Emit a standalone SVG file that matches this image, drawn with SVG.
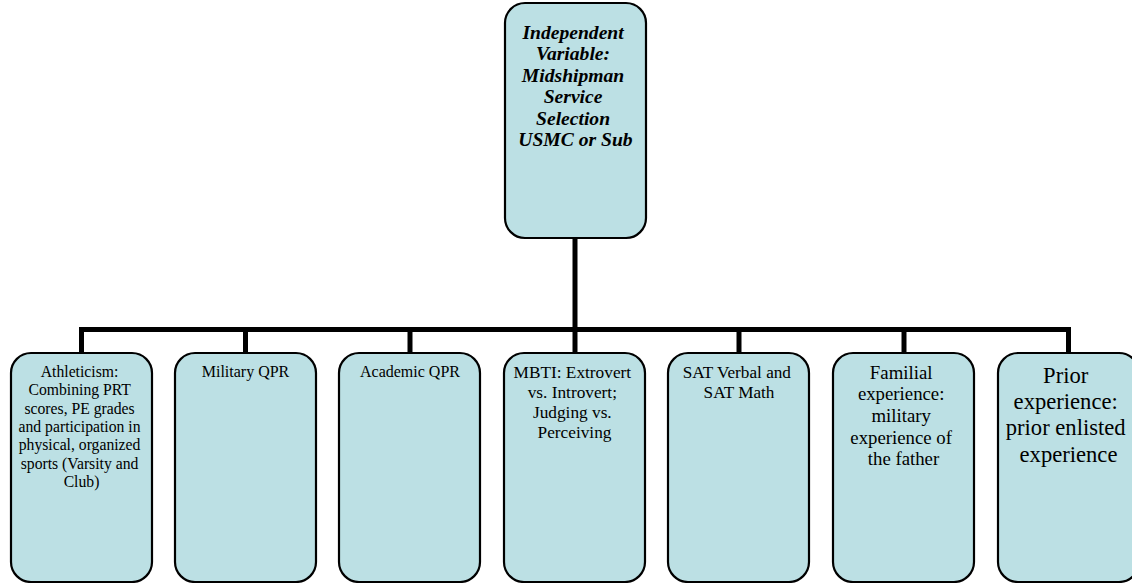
<svg xmlns="http://www.w3.org/2000/svg" width="1132" height="583" viewBox="0 0 1132 583">
<style>
.box{fill:#BCE0E4;stroke:#000;stroke-width:2.2}
.t{font-family:"Liberation Serif","Times New Roman",serif;fill:#000;text-anchor:middle}
.conn{stroke:#000;stroke-width:5;fill:none}
</style>
<rect width="1132" height="583" fill="#fff"/>
<g id="connectors">
<line class="conn" x1="575" y1="238" x2="575" y2="331"/>
<polyline class="conn" points="81.5,353 81.5,329.5 1068.5,329.5 1068.5,353"/>
<line class="conn" x1="245.5" y1="329.5" x2="245.5" y2="353"/>
<line class="conn" x1="410" y1="329.5" x2="410" y2="353"/>
<line class="conn" x1="575" y1="329.5" x2="575" y2="353"/>
<line class="conn" x1="739" y1="329.5" x2="739" y2="353"/>
<line class="conn" x1="904" y1="329.5" x2="904" y2="353"/>
</g>
<g id="root">
<rect class="box" x="505" y="3" width="141" height="235" rx="20"/>
<text class="t" font-size="19.6" font-weight="bold" font-style="italic">
<tspan x="575.5" y="38.5">Independent</tspan>
<tspan x="575.5" y="60">Variable:</tspan>
<tspan x="575.5" y="81.5">Midshipman</tspan>
<tspan x="575.5" y="103">Service</tspan>
<tspan x="575.5" y="124.5">Selection</tspan>
<tspan x="575.5" y="146">USMC or Sub</tspan>
</text>
</g>
<g id="athleticism">
<rect class="box" x="11" y="353" width="141" height="229" rx="20"/>
<text class="t" font-size="15.7">
<tspan x="81.5" y="377">Athleticism:</tspan>
<tspan x="81.5" y="395.3">Combining PRT</tspan>
<tspan x="81.5" y="413.6">scores, PE grades</tspan>
<tspan x="81.5" y="431.9">and participation in</tspan>
<tspan x="81.5" y="450.2">physical, organized</tspan>
<tspan x="81.5" y="468.5">sports (Varsity and</tspan>
<tspan x="81.5" y="486.8">Club)</tspan>
</text>
</g>
<g id="military-qpr">
<rect class="box" x="175" y="353" width="141" height="229" rx="20"/>
<text class="t" font-size="16"><tspan x="245.5" y="377">Military QPR</tspan></text>
</g>
<g id="academic-qpr">
<rect class="box" x="339" y="353" width="141" height="229" rx="20"/>
<text class="t" font-size="16"><tspan x="410" y="377">Academic QPR</tspan></text>
</g>
<g id="mbti">
<rect class="box" x="504" y="353" width="141" height="229" rx="20"/>
<text class="t" font-size="17.3">
<tspan x="574.5" y="377.5">MBTI: Extrovert</tspan>
<tspan x="574.5" y="397.5">vs. Introvert;</tspan>
<tspan x="574.5" y="418">Judging vs.</tspan>
<tspan x="574.5" y="437.5">Perceiving</tspan>
</text>
</g>
<g id="sat">
<rect class="box" x="668" y="353" width="141" height="229" rx="20"/>
<text class="t" font-size="17.2">
<tspan x="739" y="377.5">SAT Verbal and</tspan>
<tspan x="739" y="398.2">SAT Math</tspan>
</text>
</g>
<g id="familial">
<rect class="box" x="833" y="353" width="141" height="229" rx="20"/>
<text class="t" font-size="18.8">
<tspan x="903.5" y="378.5">Familial</tspan>
<tspan x="903.5" y="400.2">experience:</tspan>
<tspan x="903.5" y="421.9">military</tspan>
<tspan x="903.5" y="443.6">experience of</tspan>
<tspan x="903.5" y="465.3">the father</tspan>
</text>
</g>
<g id="prior">
<rect class="box" x="998" y="353" width="141" height="229" rx="20"/>
<text class="t" font-size="22.6">
<tspan x="1068.5" y="382.5">Prior</tspan>
<tspan x="1068.5" y="409">experience:</tspan>
<tspan x="1068.5" y="435">prior enlisted</tspan>
<tspan x="1068.5" y="461.5">experience</tspan>
</text>
</g>
</svg>
